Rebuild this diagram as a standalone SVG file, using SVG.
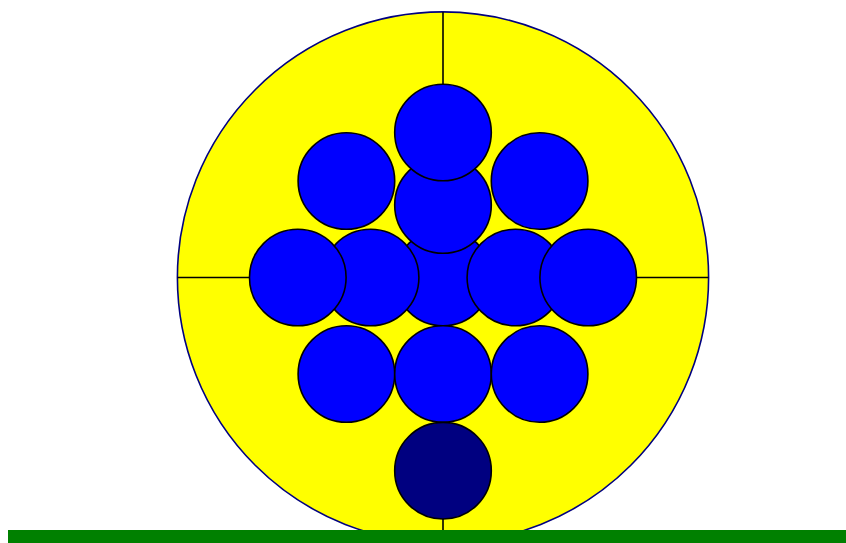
<svg xmlns="http://www.w3.org/2000/svg" width="846" height="543" viewBox="0 0 846 543">
<style>
.ball{fill:#0000ff;stroke:#000;stroke-width:1.6}
.dark{fill:#000080;stroke:#000;stroke-width:1.6}
.ln{stroke:#000;stroke-width:1.6;fill:none}
</style>
<g id="outer"><circle cx="443" cy="277.5" r="265.6" fill="#ffff00" stroke="#000080" stroke-width="1.6"/></g>
<g id="connectors">
<line class="ln" x1="443" y1="12" x2="443" y2="543"/>
<line class="ln" x1="177.5" y1="277.5" x2="708.5" y2="277.5"/>
</g>
<g id="n-center"><circle class="ball" cx="443" cy="277.5" r="48.3"/></g>
<g id="n-upper"><circle class="ball" cx="443" cy="205" r="48.3"/></g>
<g id="n-top"><circle class="ball" cx="443" cy="132.5" r="48.3"/></g>
<g id="n-midleft"><circle class="ball" cx="370.6" cy="277.5" r="48.3"/></g>
<g id="n-midright"><circle class="ball" cx="515.4" cy="277.5" r="48.3"/></g>
<g id="n-left"><circle class="ball" cx="297.8" cy="277.5" r="48.3"/></g>
<g id="n-right"><circle class="ball" cx="588.2" cy="277.5" r="48.3"/></g>
<g id="n-ul"><circle class="ball" cx="346.4" cy="181" r="48.3"/></g>
<g id="n-ur"><circle class="ball" cx="539.6" cy="181" r="48.3"/></g>
<g id="n-ll"><circle class="ball" cx="346.4" cy="374" r="48.3"/></g>
<g id="n-lc"><circle class="ball" cx="443" cy="374" r="48.3"/></g>
<g id="n-lr"><circle class="ball" cx="539.6" cy="374" r="48.3"/></g>
<g id="n-bottom"><circle class="dark" cx="443" cy="470.7" r="48.3"/></g>
<g id="ground"><rect x="8" y="530" width="838" height="13" fill="#008000"/></g>
</svg>
